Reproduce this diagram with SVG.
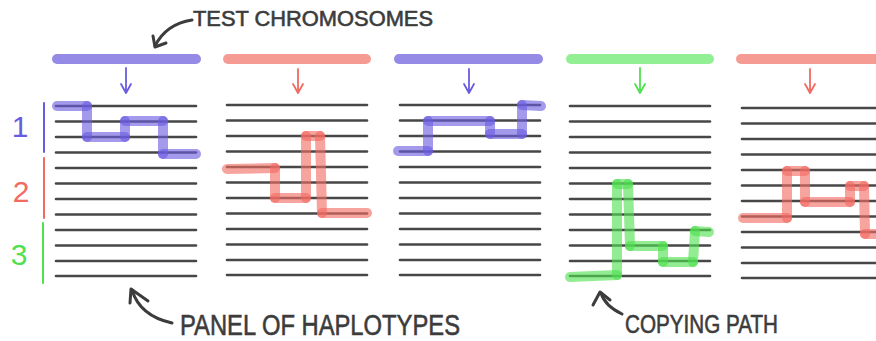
<svg xmlns="http://www.w3.org/2000/svg" width="876" height="341" viewBox="0 0 876 341">
<style>
.lbl{font-family:"Liberation Sans","DejaVu Sans",sans-serif;fill:#3c3c3c;stroke:#3c3c3c;stroke-width:0.6;}
.num{font-family:"Liberation Sans","DejaVu Sans",sans-serif;font-size:30px;text-anchor:middle;}
.hap{stroke:#474747;stroke-width:2.6;stroke-linecap:round;}
.bar{stroke-width:10;stroke-linecap:round;fill:none;}
.arr{stroke-width:1.8;stroke-linecap:round;stroke-linejoin:round;fill:none;}
.pth{stroke-width:10;stroke-linecap:round;fill:none;opacity:0.62;}
.ann{stroke:#3c3c3c;stroke-width:3;stroke-linecap:round;stroke-linejoin:round;fill:none;}
.pu{stroke:#6a5ce0;} .rd{stroke:#f26a62;} .gr{stroke:#4fe04f;}
</style>
<defs>
<g id="lines">
<line class="hap" x1="0" y1="0" x2="140" y2="0"/>
<line class="hap" x1="0" y1="15.5" x2="140" y2="15.5"/>
<line class="hap" x1="0" y1="31" x2="140" y2="31"/>
<line class="hap" x1="0" y1="46.5" x2="140" y2="46.5"/>
<line class="hap" x1="0" y1="62" x2="140" y2="62"/>
<line class="hap" x1="0" y1="77.5" x2="140" y2="77.5"/>
<line class="hap" x1="0" y1="93" x2="140" y2="93"/>
<line class="hap" x1="0" y1="108.5" x2="140" y2="108.5"/>
<line class="hap" x1="0" y1="124" x2="140" y2="124"/>
<line class="hap" x1="0" y1="139.5" x2="140" y2="139.5"/>
<line class="hap" x1="0" y1="155" x2="140" y2="155"/>
<line class="hap" x1="0" y1="170" x2="140" y2="170"/>
</g>
</defs>

<g id="title">
<text class="lbl" x="193" y="26" font-size="22" textLength="240" lengthAdjust="spacingAndGlyphs">TEST CHROMOSOMES</text>
<path class="ann" d="M192 20 Q166 24 155 46"/>
<path class="ann" d="M153 36 L155 47 L166 43"/>
</g>

<g id="row-labels">
<text class="num" x="20" y="137" fill="#6a5ce0">1</text>
<line x1="44" y1="103" x2="44" y2="152" stroke="#6a5ce0" stroke-width="2" stroke-linecap="round"/>
<text class="num" x="21" y="202" fill="#f26a62">2</text>
<line x1="44" y1="158" x2="44" y2="218" stroke="#f26a62" stroke-width="2" stroke-linecap="round"/>
<text class="num" x="19" y="265" fill="#4fe04f">3</text>
<line x1="43" y1="223" x2="43" y2="283" stroke="#4fe04f" stroke-width="2" stroke-linecap="round"/>
</g>

<g id="panel1">
<line class="bar" x1="57" y1="59" x2="196" y2="59" stroke="#958ae6"/>
<path class="arr pu" d="M126 68 L126 92 M121 84 L126 93 L131 84"/>
<use href="#lines" x="56" y="106"/>
<path class="pth pu" d="M57 106 L87 106"/><path class="pth pu" d="M87 106 L87 137"/><path class="pth pu" d="M87 137 L125 137"/><path class="pth pu" d="M125 137 L125 121"/><path class="pth pu" d="M125 121 L163 121"/><path class="pth pu" d="M163 121 L163 154"/><path class="pth pu" d="M163 154 L196 154"/>
</g>

<g id="panel2">
<line class="bar" x1="228" y1="59" x2="366" y2="59" stroke="#f69b94"/>
<path class="arr rd" d="M298 69 L298 92 M293 84 L298 93 L303 84"/>
<use href="#lines" x="227" y="105"/>
<path class="pth rd" d="M227 169 L275 168"/><path class="pth rd" d="M275 168 L275 198"/><path class="pth rd" d="M275 198 L306 198"/><path class="pth rd" d="M306 198 L306 136"/><path class="pth rd" d="M306 136 L320 136"/><path class="pth rd" d="M320 136 L322 213"/><path class="pth rd" d="M322 213 L367 213"/>
</g>

<g id="panel3">
<line class="bar" x1="399" y1="59" x2="538" y2="59" stroke="#958ae6"/>
<path class="arr pu" d="M469 69 L469 92 M464 84 L469 93 L474 84"/>
<use href="#lines" x="400" y="105"/>
<path class="pth pu" d="M398 151 L428 151"/><path class="pth pu" d="M428 151 L428 121"/><path class="pth pu" d="M428 121 L490 121"/><path class="pth pu" d="M490 121 L490 134"/><path class="pth pu" d="M490 134 L522 134"/><path class="pth pu" d="M522 134 L522 105"/><path class="pth pu" d="M522 105 L541 106"/>
</g>

<g id="panel4">
<line class="bar" x1="571" y1="59" x2="709" y2="59" stroke="#93ef93"/>
<path class="arr gr" d="M640 68 L640 92 M635 84 L640 93 L645 84"/>
<use href="#lines" x="570" y="106"/>
<path class="pth gr" d="M570 277 L617 275"/><path class="pth gr" d="M617 275 L617 184"/><path class="pth gr" d="M617 184 L628 184"/><path class="pth gr" d="M628 184 L630 246"/><path class="pth gr" d="M630 246 L663 246"/><path class="pth gr" d="M663 246 L663 262"/><path class="pth gr" d="M663 262 L693 262"/><path class="pth gr" d="M693 262 L695 231"/><path class="pth gr" d="M695 231 L709 232"/>
</g>

<g id="panel5">
<line class="bar" x1="741" y1="59" x2="890" y2="59" stroke="#f69b94"/>
<path class="arr rd" d="M810 69 L810 92 M805 84 L810 93 L815 84"/>
<use href="#lines" x="742" y="108"/>
<path class="pth rd" d="M743 218 L787 218"/><path class="pth rd" d="M787 218 L787 171"/><path class="pth rd" d="M787 171 L805 171"/><path class="pth rd" d="M805 171 L805 202"/><path class="pth rd" d="M805 202 L850 202"/><path class="pth rd" d="M850 202 L850 186"/><path class="pth rd" d="M850 186 L864 186"/><path class="pth rd" d="M864 186 L865 234"/><path class="pth rd" d="M865 234 L885 234"/>
</g>

<g id="panel-label">
<text class="lbl" x="180" y="335" font-size="30" textLength="280" lengthAdjust="spacingAndGlyphs">PANEL OF HAPLOTYPES</text>
<path class="ann" d="M172 323 Q140 316 132 290"/>
<path class="ann" d="M130 303 L131 289 L148 301"/>
</g>

<g id="path-label">
<text class="lbl" x="625" y="333" font-size="26" textLength="153" lengthAdjust="spacingAndGlyphs">COPYING PATH</text>
<path class="ann" d="M622 314 Q605 306 601 293"/>
<path class="ann" d="M593 305 L600 292 L610 300"/>
</g>
</svg>
